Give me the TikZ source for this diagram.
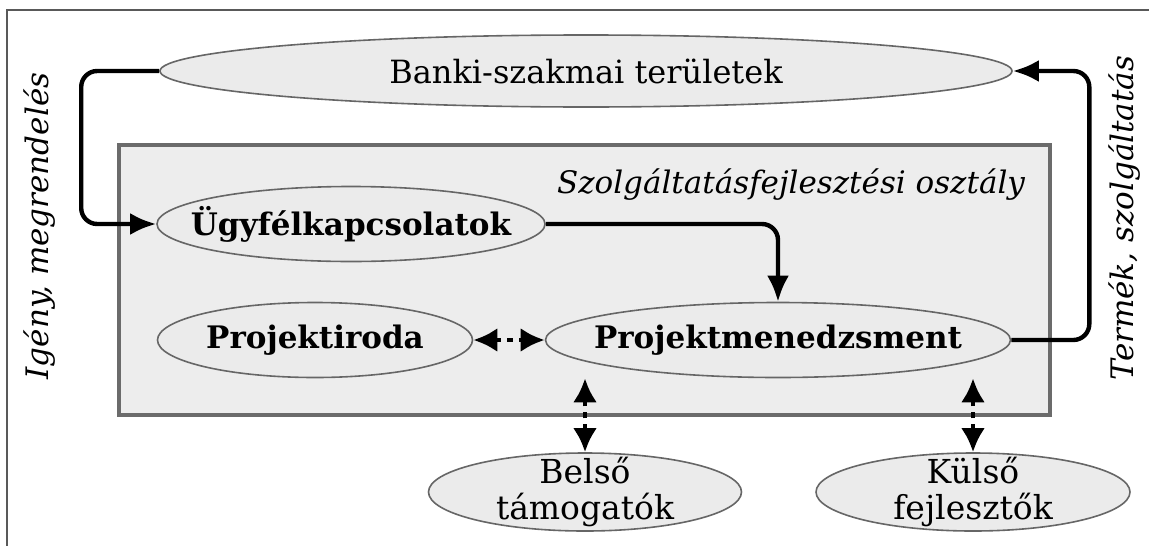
\documentclass[tikz,border=0pt]{standalone}
\usepackage{fontspec}
\setmainfont{DejaVu Serif}
\usetikzlibrary{shapes.geometric,arrows.meta}
\definecolor{ellfill}{HTML}{EBEBEB}
\definecolor{boxfill}{HTML}{EDEDED}
\begin{document}
\begin{tikzpicture}[x=0.5pt, y=-0.5pt,
    oval/.style={draw=black!60, line width=0.8pt, fill=ellfill, ellipse, inner xsep=-40pt, inner ysep=-10pt, align=center, font=\fontsize{16}{18}\selectfont},
    bold oval/.style={oval, font=\fontsize{15.5}{18}\selectfont\bfseries},
    flow/.style={line width=2.2pt, rounded corners=8pt, -{Latex[length=13pt,width=11pt]}},
    link/.style={line width=2.2pt, dash pattern=on 3pt off 3pt, {Latex[length=12pt,width=12pt]}-{Latex[length=12pt,width=12pt]}}]
        \useasboundingbox (0,0) rectangle (1149,546);
        % frame
        \draw[black!65, line width=0.6pt] (1149,10) -- (7,10) -- (7,546);

        % department box
        \node[draw=black!58, line width=2pt, fill=boxfill, minimum width=465.5pt, minimum height=135pt, inner sep=0pt] (osztaly) at (584.5,280) {};
        \node[anchor=east, font=\fontsize{15.5}{18}\selectfont\itshape] (osztalynev) at (1032,185) {Szolgáltatásfejlesztési osztály};

        \node[oval, minimum width=426pt, minimum height=36pt] (banki) at (586,71) {Banki-szakmai területek};
        \node[bold oval, minimum width=194pt, minimum height=37.5pt] (ugyfel) at (351,224) {Ügyfélkapcsolatok};
        \node[bold oval, minimum width=157.5pt, minimum height=37.5pt] (iroda) at (315,340) {Projektiroda};
        \node[bold oval, minimum width=232.5pt, minimum height=37.5pt] (pm) at (778,340) {Projektmenedzsment};
        \node[oval, minimum width=156.5pt, minimum height=39pt, font=\fontsize{16.5}{18}\selectfont] (belso) at (585,492) {Belső\\támogatók};
        \node[oval, minimum width=157pt, minimum height=39pt, font=\fontsize{16.5}{18}\selectfont] (kulso) at (973,492) {Külső\\fejlesztők};

        \node[rotate=90, font=\fontsize{15.5}{18}\selectfont\itshape] (igeny) at (40,226) {Igény, megrendelés};
        \node[rotate=90, font=\fontsize{15.5}{18}\selectfont\itshape] (termek) at (1125,218) {Termék, szolgáltatás};

        \draw[flow] (banki.west) -- ++(-78,0) |- (ugyfel.west);
        \draw[flow] (ugyfel.east) -| (pm.north);
        \draw[flow] (pm.east) -- ++(78,0) |- (banki.east);

        \draw[link] (iroda.east) -- (pm.west);
        \draw[link] (belso.north) -- (belso.north |- pm.south);
        \draw[link] (kulso.north) -- (kulso.north |- pm.south);
    \end{tikzpicture}
\end{document}
